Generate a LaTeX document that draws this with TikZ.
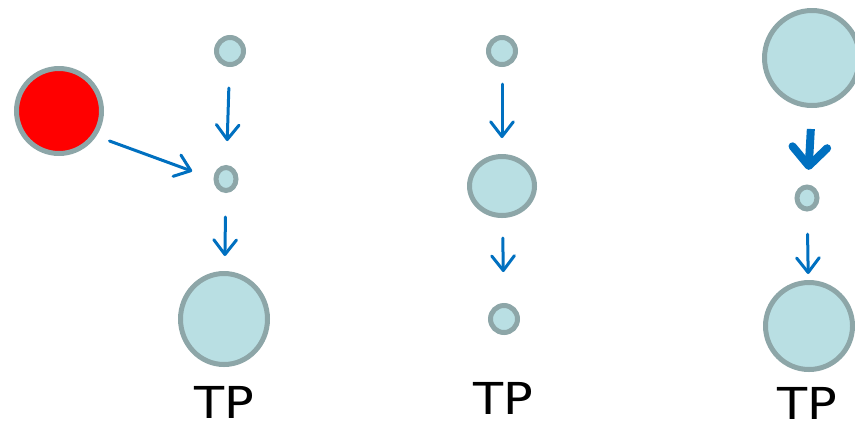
\documentclass[tikz,border=0pt]{standalone}
\usepackage{fontspec}
\setmainfont{DejaVu Sans}
\usetikzlibrary{arrows.meta,shapes.geometric}
\definecolor{ballfill}{HTML}{B9DFE3}
\definecolor{balledge}{HTML}{8DA6A8}
\definecolor{flowblue}{HTML}{0070C0}
\tikzset{every picture/.style={line width=0.75pt}}
\tikzset{
  ball/.style={ellipse, draw=balledge, fill=ballfill, line width=3.75pt, inner sep=0pt},
  flow/.style={draw=flowblue, line width=2.25pt, line cap=round, -{Straight Barb[length=11pt,width=17pt,line cap=round,line join=round]}},
  boldflow/.style={draw=flowblue, line width=6pt, -{Straight Barb[length=14pt,width=26pt,line cap=round,line join=round]}},
  tplabel/.style={font=\fontsize{33}{40}\selectfont, inner sep=0pt, xscale=1.12}
}
\begin{document}
\begin{tikzpicture}[x=0.75pt,y=0.75pt,yscale=-1,xscale=1]
	\useasboundingbox (0,0) rectangle (855,426);
	
	%Shape: Circle [id:red]
	\node [ball, fill=red, minimum width=63.75pt, minimum height=63.75pt] (red) at (59,111) {};
	%Shape: Circles, first column
	\node [ball, minimum width=20.25pt, minimum height=20.25pt] (topA) at (230,51) {};
	\node [ball, minimum width=15pt, minimum height=17.25pt] (midA) at (226,179) {};
	\node [ball, minimum width=65.25pt, minimum height=68.25pt] (botA) at (224,319) {};
	%Shape: Circles, second column
	\node [ball, minimum width=20.25pt, minimum height=20.25pt] (topB) at (502,51) {};
	\node [ball, minimum width=48.75pt, minimum height=44.25pt] (midB) at (502,186) {};
	\node [ball, minimum width=20.25pt, minimum height=20.25pt] (botB) at (504,319) {};
	%Shape: Circles, third column
	\node [ball, minimum width=71.25pt, minimum height=71.25pt] (topC) at (812,58) {};
	\node [ball, minimum width=15pt, minimum height=16.5pt] (midC) at (807,198) {};
	\node [ball, minimum width=65.25pt, minimum height=65.25pt] (botC) at (809,326) {};
	
	%Straight Lines, arrows
	\draw [flow, shorten <=10.5pt, shorten >=17pt] (red.-34) -- (midA.west) ;
	\draw [flow, shorten <=15.75pt, shorten >=18pt] (topA) -- (midA) ;
	\draw [flow, shorten <=18pt, shorten >=11.25pt] (midA) -- (botA) ;
	\draw [flow, shorten <=12.75pt, shorten >=12pt] (topB) -- (midB) ;
	\draw [flow, shorten <=15pt, shorten >=23.25pt] (midB) -- (botB) ;
	\draw [boldflow, shorten <=15.75pt, shorten >=11pt] (topC.south) -- (midC) ;
	\draw [flow, shorten <=17pt, shorten >=4.5pt] (midC) -- (botC) ;
	
	%Text labels
	\node [tplabel] (tpA) at (224,402) {TP};
	\node [tplabel] (tpB) at (503,398) {TP};
	\node [tplabel] (tpC) at (807,403) {TP};
	
\end{tikzpicture}
\end{document}
